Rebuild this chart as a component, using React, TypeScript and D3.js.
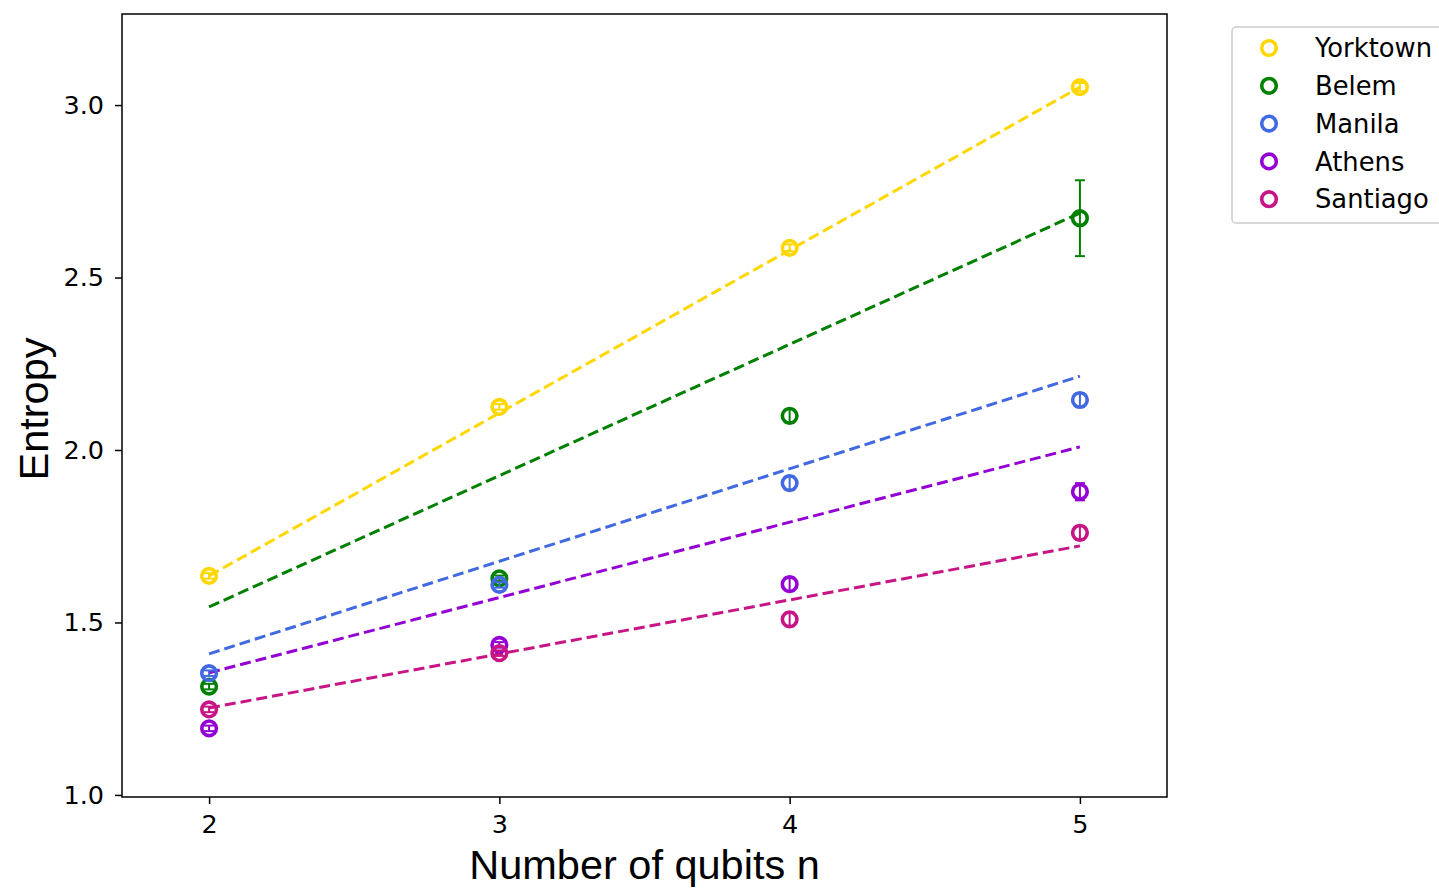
import React, { useEffect, useRef } from 'react';
import * as d3 from 'd3';

// qubit counts on the x axis
const qubits = [2, 3, 4, 5];

const backends = ['Yorktown', 'Belem', 'Manila', 'Athens', 'Santiago'];
const colors = ['#FFD700', '#008000', '#4169E1', '#9400D3', '#C71585'];

// measured entropy per backend, one value per qubit count
const yorktown = [1.635, 2.125, 2.586, 3.052];
const belem = [1.314, 1.628, 2.099, 2.672];
const manila = [1.353, 1.609, 1.904, 2.145];
const athens = [1.193, 1.435, 1.611, 1.879];
const santiago = [1.248, 1.411, 1.509, 1.760];

// error bar half-heights
const yorktownErr = [0.008, 0.008, 0.01, 0.012];
const belemErr = [0.008, 0.008, 0.02, 0.11];
const manilaErr = [0.008, 0.008, 0.02, 0.02];
const athensErr = [0.008, 0.008, 0.02, 0.025];
const santiagoErr = [0.008, 0.008, 0.02, 0.02];

// fitted trend lines, value at n=2 and n=5
const fitStart = [1.635, 1.545, 1.409, 1.354, 1.252];
const fitEnd = [3.052, 2.687, 2.214, 2.009, 1.722];

const yTicks = [1.0, 1.5, 2.0, 2.5, 3.0];

const App = () => {
  const ref = useRef<SVGSVGElement>(null);

  useEffect(() => {
    const svg = d3.select(ref.current);
    svg.selectAll('*').remove();

    const left = 122, right = 1167, top = 14, bottom = 797;
    const x = d3.scaleLinear().domain([1.7, 5.3]).range([left, right]);
    const y = d3.scaleLinear().domain([0.994, 3.264]).range([bottom, top]);

    const values = [yorktown, belem, manila, athens, santiago];
    const errs = [yorktownErr, belemErr, manilaErr, athensErr, santiagoErr];

    // axes
    const xAxis = svg.append('g')
      .attr('transform', `translate(0,${bottom})`)
      .call(d3.axisBottom(x).tickValues(qubits).tickFormat(d3.format('d')).tickSizeOuter(0).tickSize(7).tickPadding(11));
    const yAxis = svg.append('g')
      .attr('transform', `translate(${left},0)`)
      .call(d3.axisLeft(y).tickValues(yTicks).tickFormat(d3.format('.1f')).tickSizeOuter(0).tickSize(7).tickPadding(11));
    [xAxis, yAxis].forEach(a => {
      a.select('.domain').remove();
      a.selectAll('line').attr('stroke', '#000').attr('stroke-width', 1.5);
      a.selectAll('text')
        .attr('fill', '#000')
        .style('font-family', 'DejaVu Sans')
        .style('font-size', '25.5px');
    });

    // fit lines
    backends.forEach((b, i) => {
      svg.append('line')
        .attr('x1', x(qubits[0])).attr('y1', y(fitStart[i]))
        .attr('x2', x(qubits[qubits.length - 1])).attr('y2', y(fitEnd[i]))
        .attr('stroke', colors[i])
        .attr('stroke-width', 3)
        .attr('stroke-dasharray', '11,5');
    });

    // error bars + hollow markers
    backends.forEach((b, i) => {
      const g = svg.append('g');
      qubits.forEach((q, j) => {
        const cx = x(q);
        const lo = y(values[i][j] - errs[i][j]);
        const hi = y(values[i][j] + errs[i][j]);
        g.append('line').attr('x1', cx).attr('x2', cx).attr('y1', lo).attr('y2', hi)
          .attr('stroke', colors[i]).attr('stroke-width', 2);
        [lo, hi].forEach(yy => {
          g.append('line').attr('x1', cx - 5).attr('x2', cx + 5).attr('y1', yy).attr('y2', yy)
            .attr('stroke', colors[i]).attr('stroke-width', 2);
        });
        g.append('circle')
          .attr('cx', cx).attr('cy', y(values[i][j]))
          .attr('r', 7.3)
          .attr('fill', 'none')
          .attr('stroke', colors[i])
          .attr('stroke-width', 3.6);
      });
    });

    // frame
    svg.append('rect')
      .attr('x', left).attr('y', top)
      .attr('width', right - left).attr('height', bottom - top)
      .attr('fill', 'none').attr('stroke', '#000').attr('stroke-width', 1.5);

    // axis titles
    svg.append('text')
      .attr('x', (left + right) / 2).attr('y', 879)
      .attr('text-anchor', 'middle')
      .style('font-family', 'Liberation Sans, Arial')
      .style('font-size', '41.5px')
      .text('Number of qubits n');
    svg.append('text')
      .attr('transform', `translate(48,409) rotate(-90)`)
      .attr('text-anchor', 'middle')
      .style('font-family', 'Liberation Sans, Arial')
      .style('font-size', '41.5px')
      .text('Entropy');

    // legend
    const legend = svg.append('g');
    legend.append('rect')
      .attr('x', 1232).attr('y', 27).attr('width', 230).attr('height', 196)
      .attr('rx', 4)
      .attr('fill', '#fff').attr('stroke', '#ccc').attr('stroke-width', 1.5);
    backends.forEach((b, i) => {
      const ly = 48 + i * 37.8;
      legend.append('circle')
        .attr('cx', 1269).attr('cy', ly).attr('r', 7.3)
        .attr('fill', 'none').attr('stroke', colors[i]).attr('stroke-width', 3.6);
      legend.append('text')
        .attr('x', 1315).attr('y', ly).attr('dy', '0.36em')
        .style('font-family', 'DejaVu Sans')
        .style('font-size', '25.8px')
        .text(b);
    });
  }, []);

  return (
    <svg ref={ref} width={1439} height={890}
      style={{ position: 'absolute', left: 0, top: 0, background: '#fff' }} />
  );
};

export default App;
